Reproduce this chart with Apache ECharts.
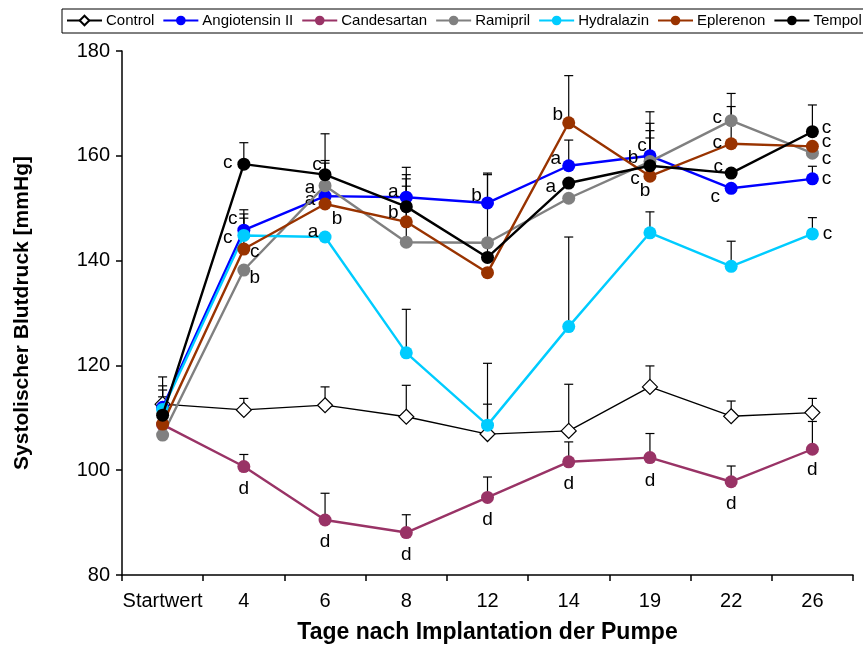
<!DOCTYPE html>
<html>
<head>
<meta charset="utf-8">
<script src="https://cdn.jsdelivr.net/npm/echarts@6/dist/echarts.min.js"></script>
<style>
  html, body { margin: 0; padding: 0; background: #fff; }
  #chart { width: 863px; height: 649px; }
</style>
</head>
<body>
<div id="chart"></div>
<script>
// Time points (days after pump implantation)
const days = ['Startwert', '4', '6', '8', '12', '14', '19', '22', '26'];
const yTicks = [80, 100, 120, 140, 160, 180];

// Mean systolic blood pressure per group [mmHg]
const control     = [112.6, 111.5, 112.4, 110.2, 106.9, 107.5, 115.9, 110.3, 111.0];
const angiotensin = [112.0, 145.8, 152.3, 152.1, 151.0, 158.1, 160.0, 153.8, 155.6];
const candesartan = [108.7, 100.7, 90.5, 88.1, 94.8, 101.6, 102.4, 97.8, 104.0];
const ramipril    = [106.7, 138.2, 154.3, 143.5, 143.4, 151.9, 158.9, 166.7, 160.5];
const hydralazin  = [111.6, 144.8, 144.5, 122.4, 108.6, 127.4, 145.3, 138.9, 145.1];
const eplerenon   = [108.8, 142.2, 150.8, 147.4, 137.7, 166.3, 156.1, 162.3, 161.8];
const tempol      = [110.5, 158.4, 156.4, 150.3, 140.6, 154.8, 158.1, 156.7, 164.6];

// Upper error bars (SEM) per group, null = no bar
const errControl     = [5.2, 2.2, 3.5, 6.0, 5.7, 8.9, 4.0, 2.9, 2.7];
const errAngiotensin = [4.1, 3.9, 6.3, 5.7, 5.7, 4.9, 8.4, null, 2.4];
const errCandesartan = [null, 2.3, 5.1, 3.4, 3.9, 3.8, 4.6, 3.0, 5.3];
const errRamipril    = [null, null, 4.8, 10.7, null, null, 7.3, 5.2, null];
const errHydralazin  = [3.7, 4.1, null, 8.3, 11.8, 17.1, 4.0, 4.8, 3.1];
const errEplerenon   = [null, 5.9, null, 8.2, null, 9.0, 7.3, 7.1, null];
const errTempol      = [3.5, 4.1, 7.8, 6.1, 15.8, null, 6.7, null, 5.1];

// Significance letters per group
const sigControl     = ['', '', '', '', '', '', '', '', ''];
const sigAngiotensin = ['', 'c', 'a', 'a', 'b', 'a', 'c', 'c', 'c'];
const sigCandesartan = ['', 'd', 'd', 'd', 'd', 'd', 'd', 'd', 'd'];
const sigRamipril    = ['', 'b', 'a', '', '', '', 'b', 'c', 'c'];
const sigHydralazin  = ['', 'c', 'a', '', '', '', '', '', 'c'];
const sigEplerenon   = ['', 'c', 'b', 'b', '', 'b', 'b', 'c', 'c'];
const sigTempol      = ['', 'c', 'c', '', '', 'a', 'c', 'c', 'c'];

// Letter placement around each marker (pixel offsets from marker centre)
const letterSpots = {
  'Angiotensin II': [null, [-11, -11], [-15, 4], [-13, -5], [-11, -7], [-13, -7], [-8, -10], [-16, 8], [14, 0]],
  'Candesartan':    [null, [0, 22], [0, 22], [0, 22], [0, 22], [0, 22], [0, 23], [0, 22], [0, 21]],
  'Ramipril':       [null, [11, 8], [-15, 2], null, null, null, [-17, -4], [-14, -3], [14, 6]],
  'Hydralazin':     [null, [-16, 2], [-12, -5], null, null, null, null, null, [15, 0]],
  'Eplerenon':      [null, [11, 3], [12, 15], [-13, -9], [-11, -8], [-11, -8], [-5, 15], [-14, -1], [14, -5]],
  'Tempol':         [null, [-16, -1], [-8, -10], null, null, [-18, 4], [-15, 13], [-13, -6], [14, -4]],
  'Control':        []
};

const groups = [
  { name: 'Control',        values: control,     err: errControl,     sig: sigControl,     color: '#000000' },
  { name: 'Angiotensin II', values: angiotensin, err: errAngiotensin, sig: sigAngiotensin, color: '#0000FF' },
  { name: 'Candesartan',    values: candesartan, err: errCandesartan, sig: sigCandesartan, color: '#993366' },
  { name: 'Ramipril',       values: ramipril,    err: errRamipril,    sig: sigRamipril,    color: '#808080' },
  { name: 'Hydralazin',     values: hydralazin,  err: errHydralazin,  sig: sigHydralazin,  color: '#00CCFF' },
  { name: 'Eplerenon',      values: eplerenon,   err: errEplerenon,   sig: sigEplerenon,   color: '#993300' },
  { name: 'Tempol',         values: tempol,      err: errTempol,      sig: sigTempol,      color: '#000000' }
];

const FONT = '"Liberation Sans", Arial, Helvetica, sans-serif';

// Error bar data: [category index, mean, mean + error]
const errorData = [];
groups.forEach(g => {
  g.values.forEach((v, i) => {
    if (g.err[i] != null) errorData.push([i, v, v + g.err[i]]);
  });
});

const errorSeries = {
  type: 'custom',
  name: 'SEM',
  z: 1,
  silent: true,
  data: errorData,
  encode: { x: 0, y: [1, 2] },
  renderItem: function (params, api) {
    const base = api.coord([api.value(0), api.value(1)]);
    const top = api.coord([api.value(0), api.value(2)]);
    const half = 4.5;
    const style = { stroke: '#000', lineWidth: 1.2, fill: null };
    return {
      type: 'group',
      children: [
        { type: 'line', shape: { x1: base[0], y1: base[1], x2: top[0], y2: top[1] }, style: style },
        { type: 'line', shape: { x1: top[0] - half, y1: top[1], x2: top[0] + half, y2: top[1] }, style: style }
      ]
    };
  }
};

const lineSeries = groups.map((g, k) => {
  const isControl = g.name === 'Control';
  const spots = letterSpots[g.name];
  return {
    type: 'line',
    name: g.name,
    z: 2 + k,
    symbol: isControl ? 'diamond' : 'circle',
    symbolSize: isControl ? 15 : 13,
    showAllSymbol: true,
    lineStyle: { color: g.color, width: isControl ? 1.3 : 2.4 },
    itemStyle: isControl
      ? { color: '#fff', borderColor: '#000', borderWidth: 1.2 }
      : { color: g.color, borderWidth: 0 },
    emphasis: { disabled: true },
    data: g.values.map((v, i) => {
      const item = { value: v };
      if (g.sig[i] && spots[i]) {
        item.label = {
          show: true,
          formatter: g.sig[i],
          position: 'inside',
          offset: spots[i],
          color: '#000',
          fontFamily: FONT,
          fontSize: 19
        };
      }
      return item;
    })
  };
});

const chart = echarts.init(document.getElementById('chart'), null, { renderer: 'canvas' });
chart.setOption({
  animation: false,
  backgroundColor: '#ffffff',
  legend: {
    data: groups.map(g => g.name),
    left: 62,
    top: 9,
    width: 1000,
    orient: 'horizontal',
    padding: [4, 4, 5, 4],
    borderColor: '#000',
    borderWidth: 1,
    itemWidth: 35,
    itemHeight: 12,
    itemGap: 8,
    textStyle: { fontFamily: FONT, fontSize: 15, color: '#000', padding: [0, 0, 0, -1] }
  },
  grid: { left: 122, right: 10, top: 51, bottom: 73, containLabel: false },
  xAxis: {
    type: 'category',
    data: days,
    boundaryGap: true,
    name: 'Tage nach Implantation der Pumpe',
    nameLocation: 'middle',
    nameGap: 46,
    nameTextStyle: { fontFamily: FONT, fontSize: 23, fontWeight: 'bold', color: '#000' },
    axisLine: { lineStyle: { color: '#000', width: 1.5 } },
    axisTick: { show: true, alignWithLabel: false, length: 6, lineStyle: { color: '#000', width: 1.5 } },
    axisLabel: { fontFamily: FONT, fontSize: 20, color: '#000', margin: 16, interval: 0 },
    splitLine: { show: false }
  },
  yAxis: {
    type: 'value',
    min: yTicks[0],
    max: yTicks[yTicks.length - 1],
    interval: yTicks[1] - yTicks[0],
    name: 'Systolischer Blutdruck [mmHg]',
    nameLocation: 'middle',
    nameGap: 89,
    nameTextStyle: { fontFamily: FONT, fontSize: 21, fontWeight: 'bold', color: '#000' },
    axisLine: { show: true, lineStyle: { color: '#000', width: 1.5 } },
    axisTick: { show: true, length: 6, lineStyle: { color: '#000', width: 1.5 } },
    axisLabel: { fontFamily: FONT, fontSize: 20, color: '#000', margin: 12 },
    splitLine: { show: false }
  },
  series: [errorSeries].concat(lineSeries)
});
</script>
</body>
</html>
